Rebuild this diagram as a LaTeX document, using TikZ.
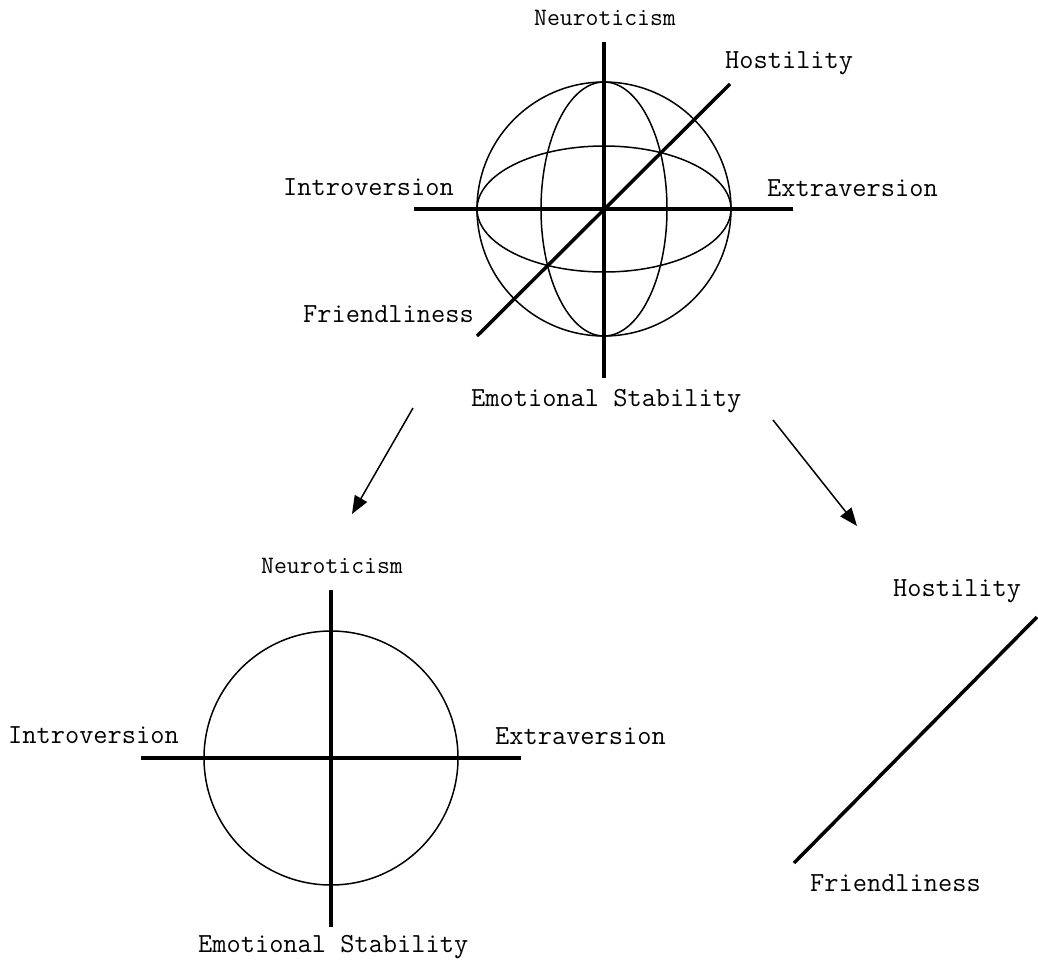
\documentclass[tikz,border=0pt]{standalone}
\usepackage{fontspec}
\usetikzlibrary{arrows.meta}

\begin{document}
\begin{tikzpicture}[x=1pt, y=-1pt, >={Triangle[length=18pt, width=14pt]},
            axis/.style={line width=3.5pt},
            shell/.style={line width=1.5pt},
            lab/.style={anchor=base west, inner sep=0pt, font=\ttfamily\fontsize{27.6}{32}\selectfont},
            smalllab/.style={lab, font=\ttfamily\fontsize{25}{29}\selectfont}]

            \useasboundingbox (0,0) rectangle (1038,959);

            % ===== 三维球 =====
            \coordinate (ball) at (604,209);
            \coordinate (ballN) at (604,42);
            \coordinate (ballS) at (604,378);
            \coordinate (ballW) at (414,209);
            \coordinate (ballE) at (793,209);
            \coordinate (ballF) at (477,336);
            \coordinate (ballH) at (730,84);

            \draw[shell] (ball) circle [radius=127pt];
            \draw[shell] (ball) ellipse [x radius=127pt, y radius=63pt];
            \draw[shell] (ball) ellipse [x radius=63pt, y radius=127pt];
            \draw[axis] (ballN) -- (ballS);
            \draw[axis] (ballW) -- (ballE);
            \draw[axis] (ballF) -- (ballH);

            \node[smalllab] (ballNlab) at (534,25) {Neuroticism};
            \node[lab] (ballHlab) at (725,68) {Hostility};
            \node[lab] (ballWlab) at (283,195) {Introversion};
            \node[lab] (ballElab) at (767,196) {Extraversion};
            \node[lab] (ballFlab) at (303,322) {Friendliness};
            \node[lab] (ballSlab) at (471,406) {Emotional Stability};

            % ===== 投影箭头 =====
            \coordinate (leftfrom) at (413,408);
            \coordinate (leftto) at (352,514);
            \coordinate (rightfrom) at (773,420);
            \coordinate (rightto) at (857,526);
            \draw[->, line width=1.5pt] (leftfrom) -- (leftto);
            \draw[->, line width=1.5pt] (rightfrom) -- (rightto);

            % ===== 平面圆 =====
            \coordinate (disc) at (331,758);
            \coordinate (discN) at (331,590);
            \coordinate (discS) at (331,927);
            \coordinate (discW) at (141,758);
            \coordinate (discE) at (521,758);

            \draw[shell] (disc) circle [radius=127pt];
            \draw[axis] (discN) -- (discS);
            \draw[axis] (discW) -- (discE);

            \node[smalllab] (discNlab) at (261,573) {Neuroticism};
            \node[lab] (discWlab) at (8,743) {Introversion};
            \node[lab] (discElab) at (495,744) {Extraversion};
            \node[lab] (discSlab) at (198,952) {Emotional Stability};

            % ===== 单轴 =====
            \coordinate (lineF) at (794,863);
            \coordinate (lineH) at (1037,617);
            \draw[axis] (lineF) -- (lineH);

            \node[lab] (lineHlab) at (893,596) {Hostility};
            \node[lab] (lineFlab) at (810,891) {Friendliness};
\end{tikzpicture}
\end{document}
